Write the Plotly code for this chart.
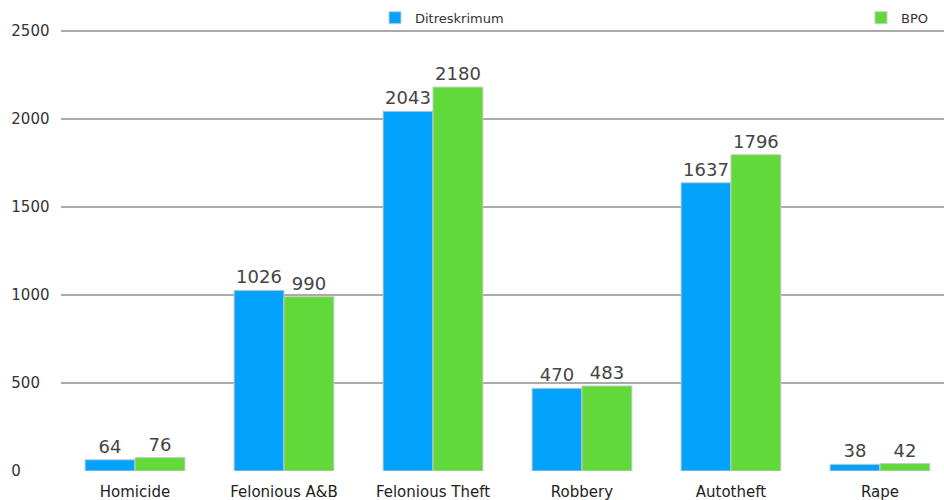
import plotly.graph_objects as go

categories = ["Homicide", "Felonious A&B", "Felonious Theft", "Robbery", "Autotheft", "Rape"]
ditreskrimum = [64, 1026, 2043, 470, 1637, 38]
bpo = [76, 990, 2180, 483, 1796, 42]
y_ticks = [0, 500, 1000, 1500, 2000, 2500]

BLUE = "#03A3FD"
GREEN = "#62D93A"
FONT = "DejaVu Sans"

# left-aligned look for tick labels: pad with figure spaces (digit width)
width = max(len(str(v)) for v in y_ticks)
y_ticktext = [str(v) + "\u2007" * (width - len(str(v))) for v in y_ticks]

fig = go.Figure()
fig.add_trace(go.Bar(
    x=categories, y=ditreskrimum, name="Ditreskrimum",
    marker=dict(color=BLUE, line=dict(color="#c9c9c9", width=1)),
    text=ditreskrimum, textposition="outside", cliponaxis=False,
    textfont=dict(family=FONT, size=18, color="#444444"),
    legend="legend",
))
fig.add_trace(go.Bar(
    x=categories, y=bpo, name="BPO",
    marker=dict(color=GREEN, line=dict(color="#c9c9c9", width=1)),
    text=bpo, textposition="outside", cliponaxis=False,
    textfont=dict(family=FONT, size=18, color="#444444"),
    legend="legend2",
))

W, H = 944, 500
L = 60.5
fig.update_layout(
    width=W, height=H,
    margin=dict(l=0, r=0, t=29.24, b=29),
    paper_bgcolor="white", plot_bgcolor="white",
    barmode="group", bargap=0.33, bargroupgap=0,
    showlegend=True,
    font=dict(family=FONT, size=13, color="#333333"),
    xaxis=dict(
        domain=[L / W, 1], range=[-0.5, 5.43],
        showgrid=False, zeroline=False, showline=False,
        tickfont=dict(family=FONT, size=15, color="#222222"),
        ticks="", ticklabelstandoff=10,
    ),
    yaxis=dict(
        range=[0, 2510], tickvals=y_ticks, ticktext=y_ticktext,
        showgrid=True, gridcolor="#aaaaaa", gridwidth=2,
        zeroline=False, showline=False, ticks="", ticklabelstandoff=10,
        tickfont=dict(family=FONT, size=15, color="#333333"),
    ),
    legend=dict(
        orientation="h", x=375 / W, y=(471 - 18) / 441.76,
        xanchor="left", yanchor="middle", bgcolor="rgba(0,0,0,0)",
        font=dict(family=FONT, size=13, color="#333333"),
    ),
    legend2=dict(
        orientation="h", x=861 / W, y=(471 - 18) / 441.76,
        xanchor="left", yanchor="middle", bgcolor="rgba(0,0,0,0)",
        font=dict(family=FONT, size=13, color="#333333"),
    ),
)

fig.write_html("out.html")
